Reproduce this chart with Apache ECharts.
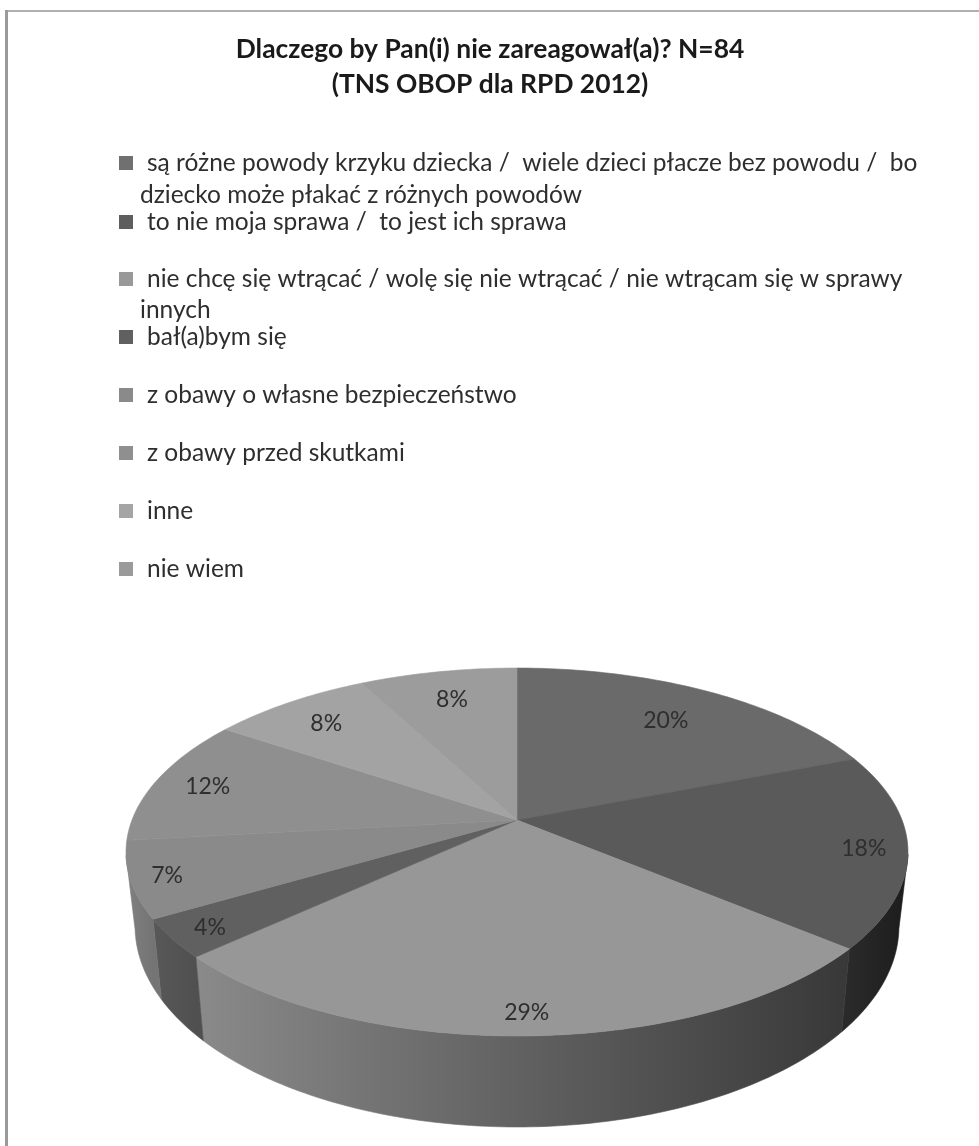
<!DOCTYPE html>
<html>
<head>
<meta charset="utf-8">
<script src="https://cdn.jsdelivr.net/npm/echarts@6/dist/echarts.min.js"></script>
<style>
html,body{margin:0;padding:0;background:#fff}
#c{width:979px;height:1146px;filter:blur(0.7px)}
</style>
</head>
<body>
<div id="c"></div>
<script>
// ---- data ----
var titleLines = ['Dlaczego by Pan(i) nie zareagował(a)? N=84', '(TNS OBOP dla RPD 2012)'];
var categories = [
  'są różne powody krzyku dziecka /  wiele dzieci płacze bez powodu /  bo dziecko może płakać z różnych powodów',
  'to nie moja sprawa /  to jest ich sprawa',
  'nie chcę się wtrącać / wolę się nie wtrącać / nie wtrącam się w sprawy innych',
  'bał(a)bym się',
  'z obawy o własne bezpieczeństwo',
  'z obawy przed skutkami',
  'inne',
  'nie wiem'
];
var firstLines = [
  'są różne powody krzyku dziecka /  wiele dzieci płacze bez powodu /  bo',
  'to nie moja sprawa /  to jest ich sprawa',
  'nie chcę się wtrącać / wolę się nie wtrącać / nie wtrącam się w sprawy',
  'bał(a)bym się',
  'z obawy o własne bezpieczeństwo',
  'z obawy przed skutkami',
  'inne',
  'nie wiem'
];
var secondLines = ['dziecko może płakać z różnych powodów', '', 'innych', '', '', '', '', ''];
// percentages; the labels show them rounded
var values = [20.3, 18.1, 28.8, 3.6, 7.1, 11.9, 8.4, 8.2];

// ---- styles ----
var topColors  = ['#6a6a6a', '#5a5a5a', '#979797', '#606060', '#8a8a8a', '#8f8f8f', '#a3a3a3', '#9c9c9c'];
var iconColors = ['#707070', '#5e5e5e', '#999999', '#606060', '#8a8a8a', '#8f8f8f', '#a5a5a5', '#9a9a9a'];
var sideLeft   = ['#666666', '#2a2a2a', '#8a8a8a', '#585858', '#808080', '#868686', '#999999', '#999999'];
var sideRight  = ['#555555', '#1c1c1c', '#383838', '#505050', '#747474', '#808080', '#999999', '#999999'];
var labelRadius = [0.76, 0.89, 0.90, 0.90, 0.91, 0.856, 0.82, 0.80];
var legendY = [163, 222, 279, 337, 395, 453, 511, 569];
var wrapY   = [195, 0, 310, 0, 0, 0, 0, 0];
var FONT = 'Lato, "Noto Sans", sans-serif';
var TEXT = '#2e2e2e';

// perspective of the pie disc: unit circle -> screen
var CX = 517, CY = 820, B = 385, A = 178.4, K = 0.174, SIDE_FROM = 0.18;
function project(a, r) {
  var u = Math.sin(a) * r, v = -Math.cos(a) * r, w = 1 / (1 - K * v);
  return [CX + B * u * w, CY + A * v * w, v];
}
function projectBottom(a) {
  var p = project(a, 1);
  return [CX + (p[0] - CX) * 382 / 391, 926 + (p[1] - 852) * 201 / 184];
}
var total = values.reduce(function (s, x) { return s + x; }, 0);
function startAngle(i) {
  var s = 0;
  for (var j = 0; j < i; j++) s += values[j];
  return s / total * 2 * Math.PI;
}

function makeRender(i) {
  return function (params, api) {
    var val = api.value(0);
    var a0 = startAngle(i), a1 = a0 + val / total * 2 * Math.PI;
    var n = Math.max(8, Math.ceil((a1 - a0) * 60));
    var topPts = [[CX, CY]], rim = [], bot = [];
    for (var k = 0; k <= n; k++) {
      var a = a0 + (a1 - a0) * k / n, p = project(a, 1);
      topPts.push([p[0], p[1]]);
      if (p[2] > SIDE_FROM) { rim.push([p[0], p[1]]); bot.unshift(projectBottom(a)); }
    }
    var children = [];
    if (rim.length > 1) {
      var grad = new echarts.graphic.LinearGradient(
        Math.min(rim[0][0], rim[rim.length - 1][0]), 0,
        Math.max(rim[0][0], rim[rim.length - 1][0]), 0,
        [{ offset: 0, color: sideLeft[i] }, { offset: 1, color: sideRight[i] }], true);
      children.push({
        type: 'polygon', z2: 1,
        shape: { points: rim.concat(bot) },
        style: { fill: grad, stroke: grad, lineWidth: 0.6 }
      });
    }
    children.push({
      type: 'polygon', z2: 2, shape: { points: topPts },
      style: { fill: topColors[i], stroke: topColors[i], lineWidth: 0.6 }
    });
    var m = project((a0 + a1) / 2, labelRadius[i]);
    children.push({
      type: 'text', z2: 3, x: m[0], y: m[1] + 2,
      style: { text: Math.round(val) + '%', fill: TEXT, font: '23px ' + FONT, align: 'center', verticalAlign: 'middle' }
    });
    return { type: 'group', children: children };
  };
}

var series = categories.map(function (name, i) {
  return {
    type: 'custom', name: name, coordinateSystem: 'none',
    itemStyle: { color: iconColors[i] },
    data: [[values[i]]],
    renderItem: makeRender(i),
    animation: false, silent: true
  };
});

var legends = categories.map(function (name, i) {
  return {
    data: [{ name: name, icon: 'rect' }],
    left: 119, top: legendY[i] - 15, padding: 0,
    itemWidth: 14, itemHeight: 14, selectedMode: false,
    formatter: function () { return firstLines[i]; },
    textStyle: { fontFamily: FONT, fontSize: 24.5, color: TEXT, padding: [0, 0, 0, 9], lineHeight: 30 }
  };
});

var titles = [{
  text: titleLines.join('\n'), left: 490, top: 32, textAlign: 'center', padding: 0,
  textStyle: { fontFamily: FONT, fontWeight: 'bold', fontSize: 26.4, lineHeight: 35, color: '#1a1a1a' }
}];
secondLines.forEach(function (t, i) {
  if (t) titles.push({
    text: t, left: 140, top: wrapY[i] - 15, padding: 0,
    textStyle: { fontFamily: FONT, fontWeight: 'normal', fontSize: 24.5, lineHeight: 30, color: TEXT }
  });
});

var chart = echarts.init(document.getElementById('c'), null, { renderer: 'canvas' });
chart.setOption({
  backgroundColor: '#ffffff',
  animation: false,
  title: titles,
  legend: legends,
  series: series,
  graphic: [
    { type: 'rect', shape: { x: 5, y: 10, width: 974, height: 2 }, style: { fill: '#b0b0b0' }, silent: true },
    { type: 'rect', shape: { x: 5, y: 10, width: 3, height: 1136 }, style: { fill: '#9a9a9a' }, silent: true }
  ]
});
</script>
</body>
</html>
